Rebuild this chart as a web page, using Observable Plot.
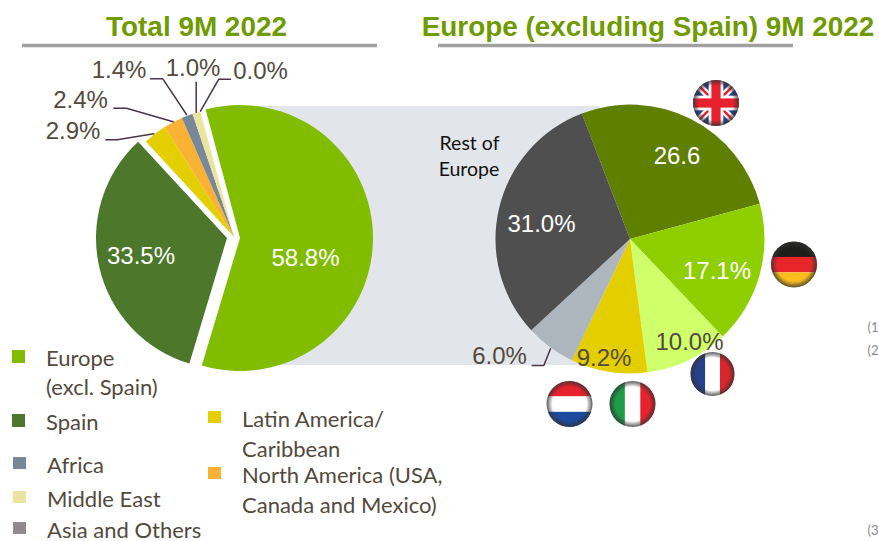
<!DOCTYPE html>
<html><head><meta charset="utf-8">
<style>html,body{margin:0;padding:0;background:#fff;overflow:hidden}svg{display:block}</style>
<script src="https://cdn.jsdelivr.net/npm/d3@7"></script>
<script src="https://cdn.jsdelivr.net/npm/@observablehq/plot@0.6"></script>
</head><body><script>
// ---- data
const totalRegions = ["Europe (excl. Spain)","Spain","Latin America/Caribbean","North America","Africa","Middle East","Asia and Others"];
const totalShares  = [58.8,33.5,2.9,2.4,1.4,1.0,0.0];
const europeCountries = ["UK","Germany","France","Italy","Netherlands","Rest of Europe"];
const europeShares    = [26.6,17.1,10.0,9.2,6.0,31.0];
const titles = ["Total 9M 2022","Europe (excluding Spain) 9M 2022"];
const footnoteMarks = ["(1","(2","(3"];

// ---- styles
const totalColors  = ["#82bc00","#4d782c","#e3cf00","#f9b233","#778899","#ebe3a0","#908a90"];
const europeColors = ["#5f7f00","#8fce00","#d0ff6c","#e3cf00","#adb5bd","#4f4f4f"];
const inkDark = "#524a3c", sans = "Liberation Sans", legendFont = "Lato";

// ---- layout (pixel space of the picture)
const deg = Math.PI / 180;
const totalGeom = [[240,238,133],[227,238,131],[234,237,130],[234,237,130],[234,237,130],[234,237,130],[234,237,130]];
const totalPie  = d3.pie().sort(null).startAngle(345*deg - 2*Math.PI).endAngle(345*deg)(totalShares);
const europePie = d3.pie().sort(null).startAngle(339*deg).endAngle(339*deg + 2*Math.PI)(europeShares);
const slices = [
  ...totalPie.map((a,i)=>({name:totalRegions[i],value:totalShares[i],a0:a.startAngle,a1:a.endAngle,cx:totalGeom[i][0],cy:totalGeom[i][1],r:totalGeom[i][2],color:totalColors[i]})),
  ...europePie.map((a,i)=>({name:europeCountries[i],value:europeShares[i],a0:a.startAngle,a1:a.endAngle,cx:630,cy:239,r:134.5,color:europeColors[i]}))
];
const fmt = d => d.toFixed(1)+"%";
const valueLabels = [
  {t:fmt(totalShares[0]),x:305,y:258,c:"#fff"},{t:fmt(totalShares[1]),x:140.5,y:256,c:"#fff"},
  {t:fmt(totalShares[2]),x:72.5,y:131,c:inkDark},{t:fmt(totalShares[3]),x:80,y:100,c:inkDark},
  {t:fmt(totalShares[4]),x:118.5,y:70,c:inkDark},{t:fmt(totalShares[5]),x:192.5,y:68,c:inkDark},
  {t:fmt(totalShares[6]),x:260,y:71,c:inkDark},
  {t:String(europeShares[0]),x:676.5,y:156,c:"#fff"},{t:fmt(europeShares[1]),x:716.5,y:271,c:"#fff"},
  {t:fmt(europeShares[2]),x:689,y:342,c:inkDark},{t:fmt(europeShares[3]),x:603.5,y:358,c:inkDark},
  {t:fmt(europeShares[4]),x:499,y:356,c:inkDark},{t:fmt(europeShares[5]),x:541,y:224,c:"#fff"}
];
const leaders = [
  [[150,78.3],[162.3,78.3],[186,114]],[[195.7,81.7],[195.7,111.7]],[[230,78.7],[218.3,78.7],[200,110.7]],
  [[113.3,107.7],[126,107.7],[172.7,121.3]],[[105.3,139.3],[116.7,139.3],[153.3,133.3]],[[531.7,365],[543.3,365],[550,348.3]]
].flatMap((pts,k)=>pts.map(p=>({k,x:p[0],y:p[1]})));
const legendSwatches = [
  {x:12,y:350,h:13,c:totalColors[0]},{x:12,y:414,h:13,c:totalColors[1]},{x:13,y:457,h:12,c:totalColors[4]},
  {x:13,y:491,h:12,c:totalColors[5]},{x:13,y:522,h:12,c:totalColors[6]},{x:208,y:411,h:12,c:totalColors[2]},{x:208,y:467,h:12,c:totalColors[3]}
];
const legendText = [
  {t:"Europe",x:45.5,y:358},{t:"(excl. Spain)",x:45.5,y:387},{t:"Spain",x:45.5,y:422},{t:"Africa",x:46.5,y:465},
  {t:"Middle East",x:46.5,y:499},{t:"Asia and Others",x:46.5,y:530},{t:"Latin America/",x:241.5,y:419},
  {t:"Caribbean",x:241.5,y:449},{t:"North America (USA,",x:241.5,y:475},{t:"Canada and Mexico)",x:241.5,y:505}
];
const flags = [
  {k:"uk",x:716,y:103,r:23},{k:"de",x:794,y:264.5,r:23},{k:"fr",x:712.5,y:374,r:22},
  {k:"it",x:632.5,y:404,r:23},{k:"nl",x:569.5,y:404,r:23}
];

// slices: a dot mark whose render draws each arc at its scaled centre
function arcRender(index, scales, values) {
  const g = d3.create("svg:g"), arc = d3.arc().innerRadius(0);
  for (const i of index) {
    const s = slices[i];
    g.append("path").attr("d",arc({outerRadius:s.r,startAngle:s.a0,endAngle:s.a1}))
      .attr("transform",`translate(${values.x[i]},${values.y[i]})`).attr("fill",values.fill[i]);
  }
  return g.node();
}
// flags: decorative, placed through the scales
function flagMark(index, {x, y}) {
  const g = d3.create("svg:g");
  const defs = g.append("defs");
  const grad = defs.append("radialGradient").attr("id","vig");
  grad.append("stop").attr("offset","74%").attr("stop-color","#333").attr("stop-opacity",0);
  grad.append("stop").attr("offset","100%").attr("stop-color","#333").attr("stop-opacity",.8);
  flags.forEach((f,n)=>{
    const cx=x(f.x), cy=y(f.y), r=f.r, id="fc"+n;
    defs.append("clipPath").attr("id",id).append("circle").attr("cx",cx).attr("cy",cy).attr("r",r);
    const c=g.append("g").attr("clip-path",`url(#${id})`);
    const rect=(a,b,w,h,fill)=>c.append("rect").attr("x",cx+a*r).attr("y",cy+b*r).attr("width",w*r).attr("height",h*r).attr("fill",fill);
    if(f.k==="uk"){
      rect(-1,-1,2,2,"#27408b");
      const ln=(x1,y1,x2,y2,col,w)=>c.append("line").attr("x1",cx+x1*r).attr("y1",cy+y1*r).attr("x2",cx+x2*r).attr("y2",cy+y2*r).attr("stroke",col).attr("stroke-width",w);
      ln(-1,-1,1,1,"#fff",7);ln(-1,1,1,-1,"#fff",7);ln(-1,-1,1,1,"#e8212e",2.5);ln(-1,1,1,-1,"#e8212e",2.5);
      rect(-.32,-1,.64,2,"#fff");rect(-1,-.32,2,.64,"#fff");
      rect(-.2,-1,.4,2,"#e8212e");rect(-1,-.2,2,.4,"#e8212e");
    } else if(f.k==="de"){
      rect(-1,-1,2,.68,"#1d1d1b");rect(-1,-.33,2,.67,"#e8262a");rect(-1,.34,2,.66,"#f9bc1e");
    } else if(f.k==="fr"){
      rect(-1,-1,.67,2,"#27408b");rect(-.33,-1,.67,2,"#fff");rect(.34,-1,.66,2,"#d9262c");
    } else if(f.k==="it"){
      rect(-1,-1,.67,2,"#1e9c48");rect(-.33,-1,.67,2,"#fff");rect(.34,-1,.66,2,"#e8212e");
    } else {
      rect(-1,-1,2,.67,"#e8212e");rect(-1,-.33,2,.67,"#fff");rect(-1,.34,2,.66,"#1c4a9c");
    }
    g.append("circle").attr("cx",cx).attr("cy",cy).attr("r",r).attr("fill","url(#vig)");
  });
  return g.node();
}

const chart = Plot.plot({
  width:879,height:541,margin:0,
  x:{domain:[0,879],range:[0,879],axis:null},
  y:{domain:[0,541],range:[0,541],axis:null},
  color:{type:"identity"},
  marks:[
    Plot.rect([{x1:240,x2:600,y1:106,y2:365}],{x1:"x1",x2:"x2",y1:"y1",y2:"y2",fill:"#e2e5e9"}),
    Plot.dot(slices,{x:"cx",y:"cy",fill:"color",render:arcRender}),
    Plot.line(leaders,{x:"x",y:"y",z:"k",stroke:"#4a3548",strokeWidth:1.5,curve:"linear"}),
    Plot.ruleY([{y:45,x1:22,x2:377},{y:45,x1:438,x2:793}],{y:"y",x1:"x1",x2:"x2",stroke:"#a0a0a0",strokeWidth:3.5}),
    Plot.text(titles,{text:d=>d,x:[196,647.5],y:[26.5,26.5],fontFamily:sans,fontWeight:"bold",fontSize:27.9,fill:"#6f9a00",lineAnchor:"middle"}),
    Plot.text(valueLabels,{text:"t",x:"x",y:"y",fill:"c",fontFamily:sans,fontSize:24,lineAnchor:"middle"}),
    Plot.text(["Rest of","Europe"],{text:d=>d,x:[469,468.5],y:[143,169],fontFamily:legendFont,fontSize:19.5,fill:"#111",lineAnchor:"middle"}),
    Plot.rect(legendSwatches,{x1:"x",x2:d=>d.x+13,y1:"y",y2:d=>d.y+d.h,fill:"c"}),
    Plot.text(legendText,{text:"t",x:"x",y:"y",textAnchor:"start",fontFamily:legendFont,fontSize:22,fill:inkDark,lineAnchor:"middle"}),
    Plot.text(footnoteMarks,{text:d=>d,x:[867,867,867],y:[327,350,530],textAnchor:"start",fontFamily:legendFont,fontSize:13,fill:"#8a8a8a",lineAnchor:"middle"}),
    flagMark
  ]
});
document.body.append(chart);
</script></body></html>
